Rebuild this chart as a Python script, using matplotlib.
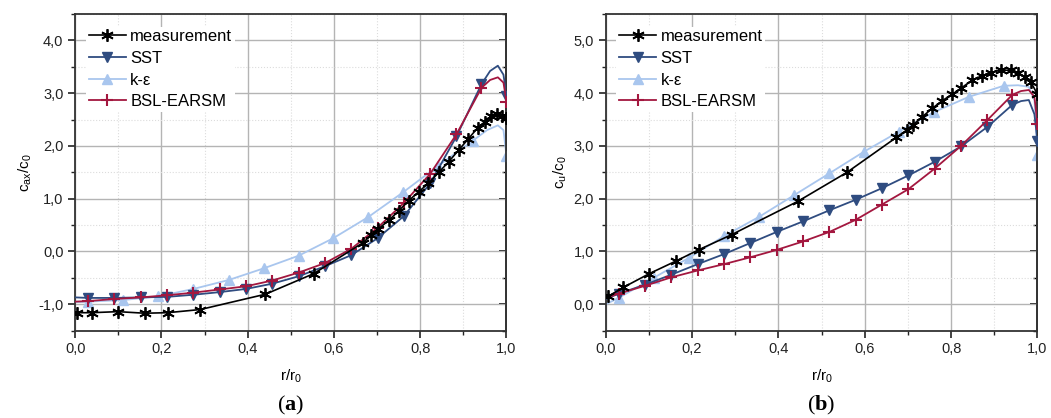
import matplotlib
matplotlib.use('Agg')
import matplotlib.pyplot as plt
from matplotlib.ticker import MultipleLocator, FuncFormatter

plt.rcParams['font.family'] = ['Liberation Sans', 'DejaVu Sans']
plt.rcParams['mathtext.fontset'] = 'custom'
plt.rcParams['mathtext.sf'] = 'Liberation Sans'
plt.rcParams['mathtext.rm'] = 'Liberation Serif'
plt.rcParams['mathtext.bf'] = 'Liberation Serif:bold'

# ---- data (a): axial velocity ----
meas_x_a = [0.003, 0.038, 0.099, 0.161, 0.214, 0.290, 0.441, 0.553, 0.668, 0.686,
            0.703, 0.727, 0.750, 0.773, 0.796, 0.819, 0.843, 0.866, 0.890, 0.911,
            0.933, 0.950, 0.965, 0.978, 0.990, 1.0]
meas_y_a = [-1.16, -1.16, -1.14, -1.17, -1.16, -1.10, -0.81, -0.42, 0.17, 0.31,
            0.43, 0.59, 0.77, 0.96, 1.13, 1.29, 1.50, 1.70, 1.93, 2.13,
            2.34, 2.46, 2.56, 2.61, 2.57, 2.52]

# SST and BSL-EARSM share the same radial stations (first = wall start, tail = tip shape)
sst_x = [0.0, 0.030, 0.091, 0.152, 0.213, 0.274, 0.335, 0.396, 0.457, 0.518, 0.579,
         0.640, 0.701, 0.762, 0.823, 0.884, 0.942, 0.962, 0.980, 0.993, 1.0]
sst_mk = [1, 2, 3, 4, 5, 6, 7, 8, 9, 10, 11, 12, 13, 14, 15, 16, 20]
sst_y_a = [-0.87, -0.88, -0.88, -0.87, -0.86, -0.82, -0.77, -0.71, -0.61, -0.47, -0.28,
           -0.07, 0.25, 0.67, 1.29, 2.18, 3.17, 3.42, 3.52, 3.35, 2.95]
bsl_y_a = [-0.95, -0.94, -0.90, -0.87, -0.83, -0.78, -0.72, -0.66, -0.55, -0.40, -0.22,
           0.05, 0.45, 0.92, 1.47, 2.22, 3.10, 3.25, 3.30, 3.20, 2.84]

ke_x = [0.0, 0.030, 0.111, 0.193, 0.274, 0.356, 0.437, 0.518, 0.598, 0.679, 0.760,
        0.841, 0.922, 0.955, 0.980, 0.993, 1.0]
ke_mk = [1, 2, 3, 4, 5, 6, 7, 8, 9, 10, 11, 12, 16]
ke_y_a = [-0.96, -0.95, -0.92, -0.85, -0.71, -0.54, -0.32, -0.08, 0.25, 0.65, 1.12,
          1.62, 2.10, 2.30, 2.39, 2.30, 1.81]

# ---- data (b): circumferential velocity ----
meas_x_b = [0.006, 0.041, 0.101, 0.163, 0.215, 0.292, 0.445, 0.559, 0.673, 0.697,
            0.712, 0.733, 0.756, 0.780, 0.803, 0.824, 0.848, 0.871, 0.893, 0.915,
            0.938, 0.954, 0.971, 0.984, 1.0]
meas_y_b = [0.15, 0.32, 0.58, 0.82, 1.03, 1.32, 1.95, 2.50, 3.16, 3.30,
            3.40, 3.55, 3.71, 3.86, 3.98, 4.10, 4.24, 4.33, 4.39, 4.44,
            4.43, 4.39, 4.31, 4.22, 3.98]
sst_y_b = [0.10, 0.20, 0.37, 0.56, 0.76, 0.95, 1.16, 1.37, 1.57, 1.78, 1.98,
           2.20, 2.44, 2.70, 2.99, 3.36, 3.78, 3.85, 3.87, 3.60, 3.10]
bsl_y_b = [0.12, 0.20, 0.35, 0.51, 0.64, 0.76, 0.89, 1.03, 1.19, 1.37, 1.60,
           1.89, 2.18, 2.57, 3.00, 3.49, 3.97, 4.04, 4.06, 3.93, 3.42]
ke_y_b = [0.0, 0.12, 0.50, 0.88, 1.29, 1.66, 2.07, 2.48, 2.89, 3.27, 3.64,
          3.93, 4.14, 4.15, 4.12, 3.87, 2.83]

c_meas = '#000000'
c_sst = '#2f4c80'
c_ke = '#a9c6ee'
c_bsl = '#a3173f'

comma = FuncFormatter(lambda v, p: ('%.1f' % v).replace('.', ','))

fig = plt.figure(figsize=(10.51, 4.18), dpi=100)
ax_a = fig.add_axes([0.0716, 0.209, 0.4103, 0.7575])
ax_b = fig.add_axes([0.5763, 0.209, 0.4108, 0.7575])


def draw(ax, mx, my, sy, ky, by, ylim, ylabel):
    ax.plot(mx, my, color=c_meas, lw=1.2, marker=(6, 2, 0), ms=9, mew=1.3,
            label='measurement', zorder=5)
    ax.plot(sst_x, sy, color=c_sst, lw=1.3, marker='v', ms=7, markevery=sst_mk,
            label='SST', zorder=3)
    ax.plot(ke_x, ky, color=c_ke, lw=1.3, marker='^', ms=7, markevery=ke_mk,
            label='k-ε', zorder=2)
    ax.plot(sst_x, by, color=c_bsl, lw=1.3, marker='+', ms=9, mew=1.5, markevery=sst_mk,
            label='BSL-EARSM', zorder=4)

    ax.set_xlim(0, 1.0)
    ax.set_ylim(*ylim)
    ax.xaxis.set_major_locator(MultipleLocator(0.2))
    ax.xaxis.set_minor_locator(MultipleLocator(0.1))
    ax.yaxis.set_major_locator(MultipleLocator(1.0))
    ax.yaxis.set_minor_locator(MultipleLocator(0.5))
    ax.xaxis.set_major_formatter(comma)
    ax.yaxis.set_major_formatter(comma)

    ax.grid(which='major', color='#b4b4b4', lw=1.0)
    ax.grid(which='minor', color='#dcdcdc', lw=0.8, ls=':')
    ax.set_axisbelow(True)

    ax.tick_params(which='both', direction='out', labelsize=10.5, colors='#222222')
    ax.tick_params(which='major', length=5, width=1.2)
    ax.tick_params(which='minor', length=3, width=1.0)
    for s in ax.spines.values():
        s.set_linewidth(1.3)
        s.set_color('#333333')

    ax.set_xlabel('r/r$_\\mathsf{0}$', fontsize=11, labelpad=8)
    ax.set_ylabel(ylabel, fontsize=11, labelpad=3)

    # mirrored inward ticks on the right side
    sec = ax.secondary_yaxis('right')
    sec.yaxis.set_major_locator(MultipleLocator(1.0))
    sec.yaxis.set_minor_locator(MultipleLocator(0.5))
    sec.tick_params(which='both', direction='in', labelright=False)
    sec.tick_params(which='major', length=5, width=1.2)
    sec.tick_params(which='minor', length=3, width=1.0)
    sec.spines['right'].set_linewidth(1.3)
    sec.spines['right'].set_color('#333333')

    leg = ax.legend(loc='upper left', bbox_to_anchor=(0.025, 0.96), borderaxespad=0,
                    borderpad=0.15, handlelength=2.25, handletextpad=0.25,
                    labelspacing=0.4, fontsize=12, frameon=True, fancybox=False)
    leg.get_frame().set_facecolor('white')
    leg.get_frame().set_edgecolor('none')
    leg.get_frame().set_alpha(1.0)


draw(ax_a, meas_x_a, meas_y_a, sst_y_a, ke_y_a, bsl_y_a, (-1.5, 4.5),
     'c$_\\mathsf{ax}$/c$_\\mathsf{0}$')
draw(ax_b, meas_x_b, meas_y_b, sst_y_b, ke_y_b, bsl_y_b, (-0.5, 5.5),
     'c$_\\mathsf{u}$/c$_\\mathsf{0}$')

fig.text(0.2767, 0.03, '($\\mathbf{a}$)', ha='center', va='center', fontsize=16,
         family='Liberation Serif')
fig.text(0.7817, 0.03, '($\\mathbf{b}$)', ha='center', va='center', fontsize=16,
         family='Liberation Serif')

fig.savefig('out.png', dpi=100)
